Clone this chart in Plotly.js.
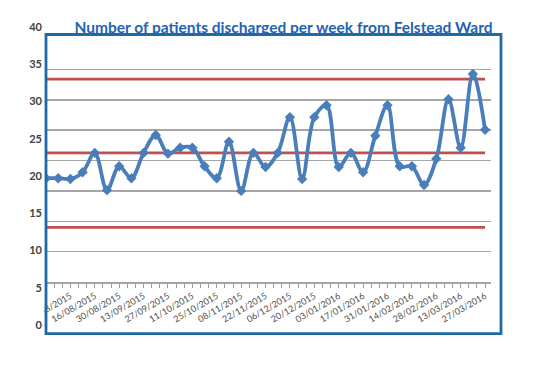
<!DOCTYPE html>
<html>
<head>
<meta charset="utf-8">
<script src="https://cdn.plot.ly/plotly-3.0.1.min.js"></script>
<style>
  html, body { margin: 0; padding: 0; background: #ffffff; }
  #chart { width: 536px; height: 370px; }
</style>
</head>
<body>
<div id="chart"></div>
<script>
// Week-ending dates (one point per week)
const weeks = [
  '2015-07-19','2015-07-26','2015-08-02','2015-08-09','2015-08-16','2015-08-23','2015-08-30',
  '2015-09-06','2015-09-13','2015-09-20','2015-09-27','2015-10-04','2015-10-11','2015-10-18',
  '2015-10-25','2015-11-01','2015-11-08','2015-11-15','2015-11-22','2015-11-29','2015-12-06',
  '2015-12-13','2015-12-20','2015-12-27','2016-01-03','2016-01-10','2016-01-17','2016-01-24',
  '2016-01-31','2016-02-07','2016-02-14','2016-02-21','2016-02-28','2016-03-06','2016-03-13',
  '2016-03-20','2016-03-27'
];
// Patients discharged per week
const discharged = [
  19.7, 19.7, 19.6, 20.5, 23.1, 18.1, 21.3, 19.7, 23.1, 25.5,
  23.0, 23.8, 23.8, 21.3, 19.7, 24.6, 18.0, 23.1, 21.2, 23.1,
  27.9, 19.6, 27.9, 29.5, 21.2, 23.1, 20.5, 25.4, 29.5, 21.3,
  21.3, 18.8, 22.3, 30.3, 23.8, 33.7, 26.2
];
// Control limits
const upperLimit = 33.0;
const centreLine = 23.1;
const lowerLimit = 13.1;

const chartTitle = 'Number of patients discharged per week from Felstead Ward';

const first = weeks[0];
const last = weeks[weeks.length - 1];
const labelWeeks = weeks.filter((d, i) => i >= 2 && i % 2 === 0);

function dayShift(dateStr, days) {
  const t = Date.parse(dateStr + 'T00:00:00Z') + days * 864e5;
  return new Date(t).toISOString().slice(0, 19).replace('T', ' ');
}
const rangeEnd = dayShift(first, 255.4);

const red = '#c0504d';
const blue = '#4a7ebb';

const limitTrace = (v) => ({
  x: [first, last], y: [v, v], xaxis: 'x', yaxis: 'y2',
  mode: 'lines', line: {color: red, width: 2.6},
  hoverinfo: 'skip', showlegend: false
});

const traces = [
  // carrier for the gridline subplot
  {x: weeks, y: weeks.map(() => null), xaxis: 'x', yaxis: 'y', mode: 'lines',
   hoverinfo: 'skip', showlegend: false},
  limitTrace(upperLimit),
  limitTrace(centreLine),
  limitTrace(lowerLimit),
  {
    x: weeks, y: discharged, xaxis: 'x', yaxis: 'y2',
    mode: 'lines+markers',
    line: {color: blue, width: 3.8, shape: 'spline', smoothing: 1},
    marker: {symbol: 'diamond', size: 8, color: blue},
    showlegend: false
  }
];

const W = 536, H = 370;
const L = 46, R = 45, T = 27, B = 45;
const plotH = H - T - B; // 298
const plotW = W - L - R; // 445
const py = (pix) => (H - B - pix) / plotH; // pixel row -> paper y
const px = (pix) => (pix - L) / plotW;     // pixel col -> paper x

const layout = {
  width: W, height: H, autosize: false,
  margin: {l: L, r: R, t: T, b: B, pad: 0},
  paper_bgcolor: '#ffffff',
  plot_bgcolor: 'rgba(0,0,0,0)',
  showlegend: false,
  font: {family: 'Lato, "Open Sans", sans-serif', color: '#404040'},
  title: {
    text: chartTitle,
    font: {family: 'Lato, "Open Sans", sans-serif', size: 15.5, color: '#1f63b5', weight: 'bold'},
    xref: 'paper', x: px(283.5), xanchor: 'center',
    yref: 'container', y: (H - 27.5) / H, yanchor: 'middle'
  },
  xaxis: {
    type: 'date', anchor: 'y',
    range: [first, rangeEnd],
    showgrid: false, zeroline: false,
    showline: true, linecolor: '#a6a6a6', linewidth: 1.5,
    ticks: 'outside', ticklen: 4, tickwidth: 1, tickcolor: '#9a9a9a',
    tickmode: 'array', tickvals: labelWeeks, tickformat: '%d/%m/%Y',
    tickangle: -30,
    tickfont: {family: 'Lato, "Open Sans", sans-serif', size: 9, color: '#505050'},
    minor: {ticks: 'outside', ticklen: 4, tickwidth: 1, tickcolor: '#9a9a9a',
            tick0: first, dtick: 14 / 3 * 864e5, showgrid: false}
  },
  // gridline axis
  yaxis: {
    domain: [py(282), py(39)], range: [0, 40], anchor: 'x',
    dtick: 5, tick0: 0,
    showgrid: true, gridcolor: '#a6a6a6', gridwidth: 1.5,
    zeroline: false, showline: false, ticks: '', showticklabels: false
  },
  // labelled value axis
  yaxis2: {
    domain: [0, 1], range: [0, 40], anchor: 'x', side: 'left',
    dtick: 5, tick0: 0,
    showgrid: false, zeroline: false, showline: false, ticks: '',
    ticklabelstandoff: 3,
    tickfont: {family: 'Lato, "Open Sans", sans-serif', size: 11, color: '#404040', weight: 'bold'}
  },
  shapes: [
    {type: 'rect', xref: 'paper', yref: 'paper',
     x0: px(12), x1: px(44.5), y0: py(320.5), y1: py(293),
     fillcolor: '#ffffff', line: {width: 0}, layer: 'above'},
    {type: 'rect', xref: 'paper', yref: 'paper',
     x0: px(12), x1: px(34), y0: py(331), y1: py(319),
     fillcolor: '#ffffff', line: {width: 0}, layer: 'above'},
    {type: 'rect', xref: 'paper', yref: 'paper',
     x0: px(46), x1: px(501), y0: py(333.7), y1: py(34.5),
     line: {color: '#1f6aa5', width: 2.8}, fillcolor: 'rgba(0,0,0,0)', layer: 'above'}
  ]
};

Plotly.newPlot('chart', traces, layout, {staticPlot: true, displayModeBar: false});
</script>
</body>
</html>
